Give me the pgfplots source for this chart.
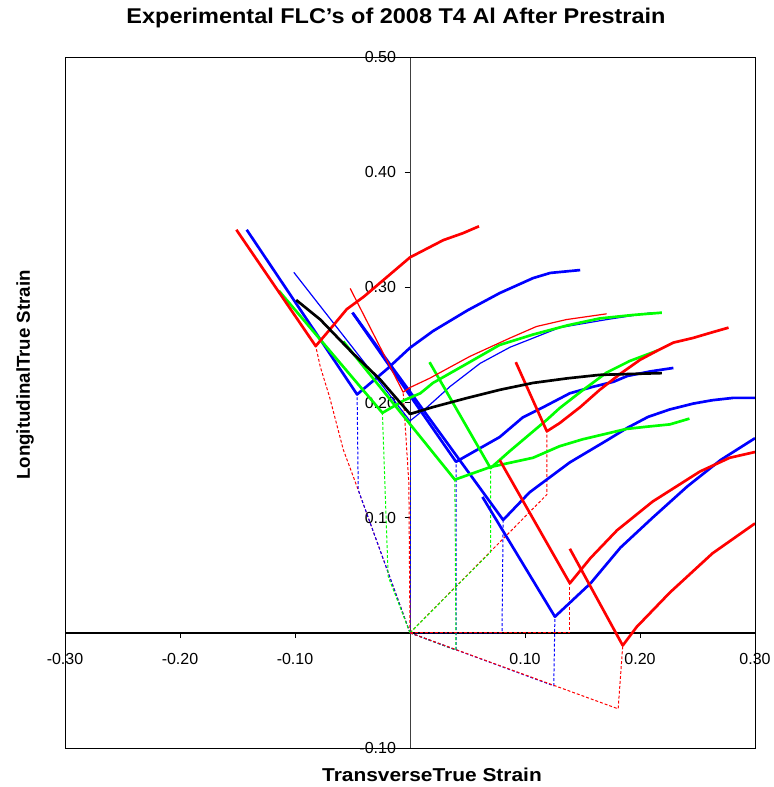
\documentclass[border=0pt]{standalone}
\usepackage{fontspec}
\setmainfont{Liberation Sans}
\usepackage{pgfplots}
\pgfplotsset{compat=1.18}
\definecolor{xred}{RGB}{255,0,0}
\definecolor{xblue}{RGB}{0,0,255}
\definecolor{xgreen}{RGB}{0,255,0}
\definecolor{xcyan}{RGB}{0,204,255}
\begin{document}
\begin{tikzpicture}
\begin{axis}[
  scale only axis, width=517.5pt, height=518.25pt,
  xmin=-0.3, xmax=0.3, ymin=-0.1, ymax=0.5,
  axis lines=middle,
  axis line style={-},
  x axis line style={line width=1.6pt, black},
  y axis line style={line width=0.7pt, black!75},
  xtick={-0.3,-0.2,-0.1,0,0.1,0.2,0.3},
  ytick={-0.1,0,0.1,0.2,0.3,0.4,0.5},
  tick align=outside, major tick length=4pt,
  tick style={black, line width=0.6pt},
  /pgf/number format/fixed,
  /pgf/number format/fixed zerofill,
  /pgf/number format/precision=2,
  /pgf/number format/assume math mode=true,
  tick label style={font=\fontsize{12}{14}\selectfont},
  xticklabel style={anchor=north, yshift=-8pt},
  yticklabel style={anchor=east, xshift=-3pt},
  clip=true,
  thk/.style={line width=2pt, line join=round},
  thn/.style={line width=0.9pt, line join=round},
  dsh/.style={line width=0.75pt, dash pattern=on 2.2pt off 1.5pt},
]
\coordinate (sw) at (rel axis cs:0,0);
\coordinate (ne) at (rel axis cs:1,1);
% ---- prestrain paths (dashed) ----
\addplot[dsh, xcyan] coordinates {(0,0) (0,0.135)};
\addplot[dsh, xblue] coordinates {(0,0) (0,0.184)};
\addplot[dsh, xred] coordinates {(0,0) (-0.001,0.13) (-0.006,0.209)};
\addplot[dsh, xred] coordinates {(0,0) (-0.045,0.124) (-0.058,0.159) (-0.070,0.205) (-0.078,0.231) (-0.082,0.249)};
\addplot[dsh, xblue] coordinates {(0,0) (-0.045,0.124) (-0.046,0.207)};
\addplot[dsh, xgreen] coordinates {(0,0) (-0.019,0.049) (-0.024,0.191)};
\addplot[dsh, xred] coordinates {(0,0) (0.119,0.120) (0.119,0.175)};
\addplot[dsh, xgreen] coordinates {(0,0) (0.070,0.070) (0.070,0.143)};
\addplot[dsh, xblue] coordinates {(0,0) (0.040,-0.015) (0.040,0.148)};
\addplot[dsh, xgreen] coordinates {(0,0) (0.040,-0.015) (0.039,0.133)};
\addplot[dsh, xblue] coordinates {(0,0) (0.080,0) (0.081,0.098)};
\addplot[dsh, xred] coordinates {(0,0) (0.139,0) (0.139,0.043)};
\addplot[dsh, xblue] coordinates {(0,0) (0.125,-0.046) (0.126,0.014)};
\addplot[dsh, xred] coordinates {(0,0) (0.181,-0.066) (0.185,-0.011)};
% ---- FLCs ----
\addplot[thk, xblue] coordinates {(-0.142,0.350) (-0.046,0.207) (-0.020,0.229) (0,0.2475) (0.020,0.262) (0.050,0.280) (0.078,0.295) (0.107,0.308) (0.122,0.3125) (0.148,0.315)};
\addplot[thn, xblue] coordinates {(-0.101,0.313) (0,0.184) (0.015,0.196) (0.035,0.214) (0.061,0.234) (0.087,0.248) (0.130,0.265) (0.171,0.272) (0.210,0.278)};
\addplot[thk, xblue] coordinates {(-0.050,0.278) (0.040,0.1485) (0.055,0.157) (0.078,0.170) (0.098,0.187) (0.116,0.196) (0.139,0.208) (0.159,0.2136) (0.177,0.218) (0.189,0.223) (0.209,0.227) (0.229,0.230)};
\addplot[thk, xblue] coordinates {(-0.050,0.278) (0.081,0.098) (0.104,0.122) (0.139,0.148) (0.171,0.167) (0.189,0.178) (0.207,0.1875) (0.226,0.194) (0.246,0.199) (0.263,0.202) (0.281,0.204) (0.300,0.204)};
\addplot[thk, xblue] coordinates {(0.063,0.118) (0.126,0.014) (0.157,0.043) (0.183,0.074) (0.211,0.100) (0.241,0.127) (0.270,0.150) (0.300,0.169)};
\addplot[thk, xgreen] coordinates {(-0.114,0.297) (-0.024,0.191) (-0.005,0.202) (0.009,0.208) (0.020,0.217) (0.050,0.234) (0.078,0.250) (0.107,0.259) (0.137,0.267) (0.165,0.273) (0.194,0.276) (0.219,0.278)};
\addplot[thk, xgreen] coordinates {(-0.058,0.253) (0.039,0.133) (0.070,0.144) (0.107,0.152) (0.130,0.162) (0.150,0.168) (0.188,0.177) (0.206,0.179) (0.226,0.181) (0.243,0.186)};
\addplot[thk, xgreen] coordinates {(0.017,0.235) (0.070,0.143) (0.087,0.158) (0.119,0.185) (0.130,0.195) (0.148,0.209) (0.171,0.226) (0.191,0.236) (0.215,0.245)};
\addplot[thk, xred] coordinates {(-0.151,0.350) (-0.082,0.249) (-0.070,0.263) (-0.055,0.281) (-0.040,0.292) (-0.020,0.309) (0.0,0.326) (0.029,0.341) (0.046,0.347) (0.060,0.353)};
\addplot[thn, xred] coordinates {(-0.052,0.299) (-0.006,0.209) (0,0.213) (0.017,0.221) (0.052,0.240) (0.087,0.256) (0.110,0.266) (0.136,0.272) (0.171,0.277)};
\addplot[thk, xred] coordinates {(0.092,0.235) (0.119,0.175) (0.130,0.182) (0.148,0.196) (0.165,0.211) (0.183,0.225) (0.200,0.237) (0.215,0.245) (0.229,0.252) (0.246,0.256) (0.263,0.261) (0.277,0.265)};
\addplot[thk, xred] coordinates {(0.078,0.150) (0.139,0.043) (0.157,0.065) (0.180,0.089) (0.211,0.114) (0.252,0.140) (0.278,0.152) (0.300,0.157)};
\addplot[thk, xred] coordinates {(0.139,0.073) (0.185,-0.011) (0.197,0.005) (0.226,0.035) (0.263,0.069) (0.300,0.095)};
\addplot[thk, black] coordinates {(-0.099,0.289) (-0.078,0.272) (-0.050,0.243) (-0.026,0.220) (0,0.190) (0.020,0.196) (0.050,0.204) (0.078,0.211) (0.107,0.217) (0.137,0.221) (0.165,0.224) (0.200,0.225) (0.219,0.2255)};
\end{axis}
\draw[black, line width=0.7pt] (sw) rectangle (ne);
\node[font=\bfseries\fontsize{16}{18}\selectfont] at ([shift={(-10.5pt,29.25pt)}]sw |- ne) [xshift=258.75pt] {\scalebox{1.1}[1]{Experimental FLC's of 2008 T4 Al After Prestrain}};
\node[font=\bfseries\fontsize{14}{16}\selectfont] at ([shift={(275.25pt,-20.25pt)}]sw) {\scalebox{1.12}[1]{TransverseTrue Strain}};
\node[font=\bfseries\fontsize{14}{16}\selectfont, rotate=90] at ([shift={(-30pt,279.75pt)}]sw) {LongitudinalTrue Strain};
\pgfresetboundingbox
\path[use as bounding box] ([shift={(-48.75pt,-29.25pt)}]sw) rectangle ([shift={(14.25pt,42.75pt)}]ne);
\end{tikzpicture}
\end{document}
